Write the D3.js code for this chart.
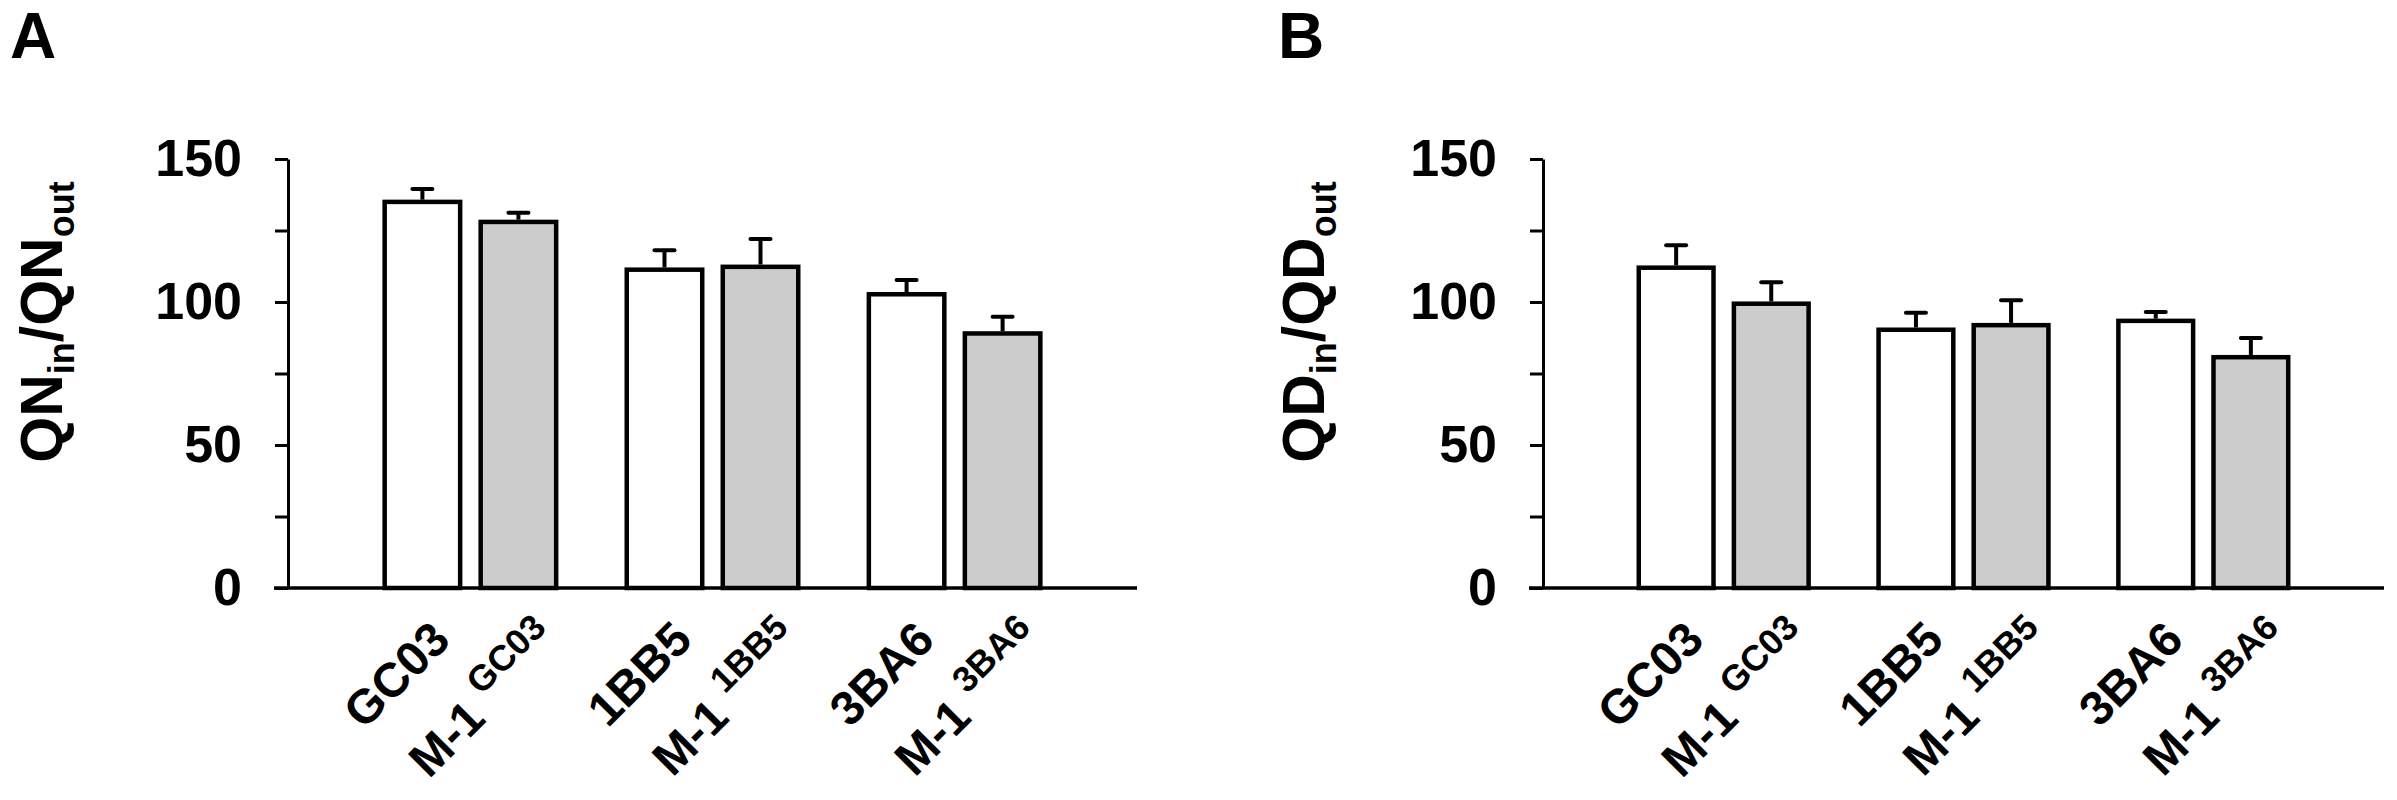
<!DOCTYPE html>
<html>
<head>
<meta charset="utf-8">
<script src="https://cdn.jsdelivr.net/npm/d3@7"></script>
<style>
    body { margin: 0; background: #fff; }
    svg text { font-family: "Liberation Sans", Arial, sans-serif; font-weight: bold; fill: #000; }
</style>
</head>
<body>
<div id="chart"></div>
<script>
// strains and the two lines per strain (parent / M-1 mutant)
const strains = ["GC03", "1BB5", "3BA6"];
const lines = ["parent", "M-1"];

// panel A : QN_in / QN_out
const qnMean = [135.0, 128.0, 111.3, 112.3, 102.7, 89.0];
const qnErr = [4.5, 3.2, 6.8, 9.7, 5.0, 5.8];

// panel B : QD_in / QD_out
const qdMean = [112.0, 99.4, 90.3, 91.9, 93.4, 80.7];
const qdErr = [7.8, 7.5, 5.9, 8.7, 3.1, 6.7];

const yTicks = [0, 25, 50, 75, 100, 125, 150];
const yLabels = [0, 50, 100, 150];

const width = 2397;
const height = 800;

const svg = d3.select("#chart")
    .append("svg")
    .attr("width", width)
    .attr("height", height);

svg.append("rect")
    .attr("width", width)
    .attr("height", height)
    .attr("fill", "#fff");

const panels = [
    { letter: "A", q: "QN", mean: qnMean, err: qnErr, left: 288, right: 1137, letterX: 10, titleX: 62 },
    { letter: "B", q: "QD", mean: qdMean, err: qdErr, left: 1543, right: 2384, letterX: 1278, titleX: 1324 }
];

function drawPanel(p) {
    const g = svg.append("g");

    const x = d3.scaleBand()
        .domain(strains)
        .range([p.left, p.right])
        .paddingInner(0.273)
        .paddingOuter(0.39);

    const xi = d3.scaleBand()
        .domain(lines)
        .range([0, x.bandwidth()])
        .paddingInner(0.167);

    const y = d3.scaleLinear()
        .domain([0, 150])
        .range([588, 159]);

    const bars = strains.flatMap((s, i) => lines.map((l, j) => ({
        strain: s,
        line: l,
        mean: p.mean[i * 2 + j],
        err: p.err[i * 2 + j]
    })));

    const sw = 4.5;
    const cx = d => x(d.strain) + xi(d.line) + xi.bandwidth() / 2;

    // bars
    g.selectAll(".bar")
        .data(bars)
        .enter()
        .append("rect")
        .attr("class", "bar")
        .attr("x", d => x(d.strain) + xi(d.line) + sw / 2)
        .attr("width", xi.bandwidth() - sw)
        .attr("y", d => y(d.mean))
        .attr("height", d => y(0) - y(d.mean))
        .attr("fill", d => d.line === "parent" ? "#ffffff" : "#cccccc")
        .attr("stroke", "#000")
        .attr("stroke-width", sw);

    // error bars (upper only)
    g.selectAll(".err")
        .data(bars)
        .enter()
        .append("line")
        .attr("class", "err")
        .attr("x1", cx)
        .attr("x2", cx)
        .attr("y1", d => y(d.mean) - sw / 2)
        .attr("y2", d => y(d.mean + d.err))
        .attr("stroke", "#000")
        .attr("stroke-width", 4);

    g.selectAll(".cap")
        .data(bars)
        .enter()
        .append("line")
        .attr("class", "cap")
        .attr("x1", d => cx(d) - 10)
        .attr("x2", d => cx(d) + 10)
        .attr("y1", d => y(d.mean + d.err))
        .attr("y2", d => y(d.mean + d.err))
        .attr("stroke", "#000")
        .attr("stroke-width", 4)
        .attr("stroke-linecap", "round");

    // Y axis
    const yAxis = g.append("g")
        .attr("transform", `translate(${p.left},0)`)
        .call(d3.axisLeft(y)
            .tickValues(yTicks)
            .tickSize(13)
            .tickSizeOuter(0)
            .tickPadding(33)
            .tickFormat(d => yLabels.includes(d) ? d : ""));
    yAxis.select(".domain").attr("stroke-width", 3);
    yAxis.selectAll(".tick line").attr("stroke-width", 3);
    yAxis.selectAll(".tick text")
        .style("font-size", "52px");

    // X axis (line only, labels below)
    const xAxis = g.append("g")
        .attr("transform", `translate(0,${y(0)})`)
        .call(d3.axisBottom(x).tickSize(0).tickFormat(""));
    xAxis.select(".domain")
        .attr("d", `M${p.left - 14},0H${p.right}`)
        .attr("stroke-width", 3.5);

    // category labels at -45 deg, M-1 ones get the strain as superscript
    const labels = g.selectAll(".xlab")
        .data(bars)
        .enter()
        .append("text")
        .attr("class", "xlab")
        .attr("text-anchor", "end")
        .style("font-size", "48px")
        .attr("transform", d => d.line === "parent"
            ? `translate(${cx(d) + 30},${y(0) + 54}) rotate(-45)`
            : `translate(${cx(d) + 45},${y(0) + 57}) rotate(-45)`);

    labels.filter(d => d.line === "parent").text(d => d.strain);
    const mut = labels.filter(d => d.line !== "parent");
    mut.append("tspan").text("M-1 ");
    mut.append("tspan")
        .style("font-size", "36px")
        .attr("dy", -22)
        .text(d => d.strain);

    // y title with subscripts
    const title = g.append("text")
        .attr("transform", `translate(${p.titleX},322) rotate(-90)`)
        .attr("text-anchor", "middle")
        .style("font-size", "59px");
    title.append("tspan").text(p.q);
    title.append("tspan").style("font-size", "36px").attr("dy", 12).text("in");
    title.append("tspan").attr("dy", -12).text("/" + p.q);
    title.append("tspan").style("font-size", "36px").attr("dy", 12).text("out");

    // panel letter
    g.append("text")
        .attr("x", p.letterX)
        .attr("y", 58)
        .style("font-size", "64px")
        .text(p.letter);
}

panels.forEach(drawPanel);
</script>
</body>
</html>
